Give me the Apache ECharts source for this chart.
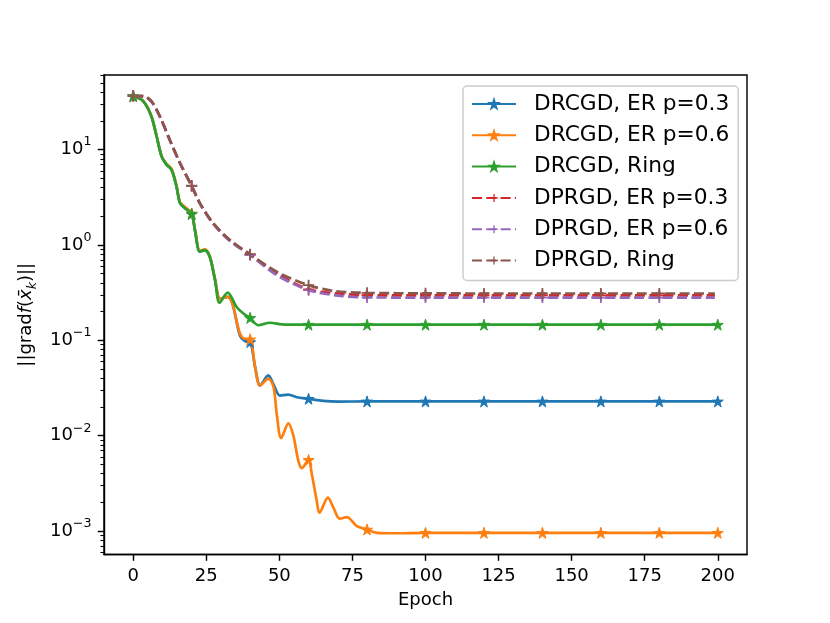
<!DOCTYPE html>
<html>
<head>
<meta charset="utf-8">
<script src="https://cdn.jsdelivr.net/npm/echarts@6/dist/echarts.min.js"></script>
<style>
html, body { margin: 0; padding: 0; background: #fff; }
#main { width: 830px; height: 623px; }
</style>
</head>
<body>
<div id="main"></div>
<script>
// ticks
var epochTicks = [0, 25, 50, 75, 100, 125, 150, 175, 200];
var decadeTicks = [-3, -2, -1, 0, 1];

// [epoch, ||grad f||]
var drcgdEr03 = [[0,36.4],[3.4,32.2],[6.2,22.4],[8,13.8],[9.7,8.5],[11.4,6.95],[13.1,6.17],[14.8,4.11],[16,2.75],[17.7,2.43],[20,2.12],[21.1,1.44],[22.8,0.85],[24.5,0.885],[26.2,0.753],[28,0.427],[29.7,0.272],[32.3,0.286],[34,0.24],[36.5,0.112],[38.2,0.098],[40,0.096],[41.7,0.0524],[43.4,0.0336],[46.2,0.0429],[48,0.0345],[50.2,0.0264],[53,0.027],[56,0.0253],[60,0.0244],[65,0.0232],[70,0.0228],[80,0.0229],[100,0.0229],[120,0.0229],[140,0.0229],[160,0.0229],[180,0.0229],[200,0.0229]];
var drcgdEr06 = [[0,36.4],[3.4,32.2],[6.2,22.4],[8,13.8],[9.7,8.6],[11.4,7.1],[13.1,6.3],[14.8,4.2],[16,2.8],[17.7,2.5],[20,2.14],[21.1,1.46],[22.8,0.87],[24.5,0.9],[26.2,0.76],[28,0.44],[29.7,0.272],[32.3,0.286],[34,0.24],[36.5,0.118],[38.2,0.103],[40,0.1025],[41.7,0.0524],[43.4,0.0336],[46.2,0.0398],[48,0.0324],[49.1,0.0169],[50.6,0.00946],[53.1,0.0135],[54.8,0.01],[56.5,0.00546],[57.7,0.00457],[60,0.00558],[61.1,0.00398],[62.8,0.00207],[63.7,0.00156],[66.6,0.00224],[68.5,0.00176],[70.6,0.00135],[73.1,0.0014],[76.5,0.00113],[80,0.00104],[83.4,0.00096],[90,0.00095],[100,0.00096],[120,0.00096],[140,0.00096],[160,0.00096],[180,0.00096],[200,0.00096]];
var drcgdRing = [[0,36.4],[3.4,32.2],[6.2,22.4],[8,13.8],[9.7,8.5],[11.4,6.95],[13.1,6.17],[14.8,4.11],[16,2.75],[17.7,2.43],[20,2.12],[21.1,1.44],[22.8,0.85],[24.5,0.885],[26.2,0.753],[28,0.429],[29.5,0.248],[32.3,0.316],[35.4,0.224],[37.7,0.191],[40,0.172],[42.8,0.144],[46.8,0.153],[50.8,0.147],[55,0.146],[60,0.146],[80,0.146],[100,0.146],[120,0.146],[140,0.146],[160,0.146],[180,0.146],[200,0.146]];
var dprgdEr03 = [[0,36.4],[3.4,36.3],[6.2,32.0],[9.1,22.2],[12.5,12.6],[16,7.2],[20,4.15],[22.8,2.73],[27.4,1.67],[33.1,1.11],[40,0.79],[49.1,0.5],[60,0.343],[70,0.31],[80,0.298],[100,0.296],[120,0.296],[140,0.296],[160,0.296],[180,0.296],[199,0.296]];
var dprgdEr06 = [[0,36.4],[3.4,36.3],[6.2,32.0],[9.1,22.2],[12.5,12.6],[16,7.2],[20,4.15],[22.8,2.73],[27.4,1.66],[33.1,1.1],[40,0.785],[49.1,0.483],[60,0.336],[70,0.295],[80,0.282],[100,0.281],[120,0.281],[140,0.281],[160,0.281],[180,0.281],[199,0.281]];
var dprgdRing = [[0,36.4],[3.4,36.4],[6.2,32.2],[9.1,22.4],[12.5,12.7],[16,7.24],[20,4.18],[22.8,2.75],[27.4,1.69],[33.1,1.13],[40,0.8],[49.1,0.524],[60,0.379],[68.5,0.33],[80,0.315],[100,0.311],[120,0.31],[140,0.31],[160,0.31],[180,0.31],[199,0.31]];

var names = ['DRCGD, ER p=0.3', 'DRCGD, ER p=0.6', 'DRCGD, Ring', 'DPRGD, ER p=0.3', 'DPRGD, ER p=0.6', 'DPRGD, Ring'];
var colors = ['#1f77b4', '#ff7f0e', '#2ca02c', '#d62728', '#9467bd', '#8c564b'];
var curves = [drcgdEr03, drcgdEr06, drcgdRing, dprgdEr03, dprgdEr06, dprgdRing];

var yMin = -3.245, yMax = 1.782;
var FONT = 'DejaVu Sans';
var starPath = 'path://M10,0L12.25,6.91L19.51,6.91L13.63,11.18L15.88,18.09L10,13.82L4.12,18.09L6.37,11.18L0.49,6.91L7.75,6.91Z';
var plusPath = 'path://M4.2,0H5.8V4.2H10V5.8H5.8V10H4.2V5.8H0V4.2H4.2Z';

// minor ticks of the log axis: 2..9 x 10^n
var minorTicks = [];
for (var n = -4; n <= 1; n++) {
	for (var k = 2; k <= 9; k++) {
		var t = n + Math.log10(k);
		if (t > yMin && t < yMax) minorTicks.push(t);
	}
}

function toData(pts) {
	return pts.map(function(p) {
		var item = { value: [p[0], Math.log10(p[1])] };
		if (p[0] % 20 !== 0) item.symbol = 'none';
		return item;
	});
}

var series = [];
for (var i = 0; i < curves.length; i++) {
	var dashed = i >= 3;
	series.push({
		name: names[i],
		type: 'line',
		data: toData(curves[i]),
		smooth: 0.3,
		showAllSymbol: true,
		symbol: dashed ? plusPath : starPath,
		symbolSize: 11,
		lineStyle: { color: colors[i], width: 2.7, type: dashed ? [10, 4.3] : 'solid' },
		itemStyle: { color: colors[i], borderColor: colors[i], borderWidth: dashed ? 0 : 1 },
		emphasis: { disabled: true }
	});
}

var axisLine = { show: true, onZero: false, lineStyle: { color: '#000', width: 1.44 } };

var myChart = echarts.init(document.getElementById('main'));
var option = {
	animation: false,
	backgroundColor: '#fff',
	grid: { left: 104, right: 83, top: 75, bottom: 68.5, show: true, borderColor: '#000', borderWidth: 1.44, backgroundColor: 'transparent' },
	legend: {
		data: names,
		orient: 'vertical',
		left: 463,
		top: 86,
		itemWidth: 44,
		itemHeight: 10,
		itemGap: 9.3,
		padding: [7, 9, 9, 8],
		backgroundColor: 'rgba(255,255,255,0.8)',
		borderColor: '#cccccc',
		borderWidth: 1.44,
		borderRadius: 4,
		selectedMode: false,
		textStyle: { fontSize: 21.7, fontFamily: FONT, color: '#000', lineHeight: 22, padding: [0, 0, 0, 13] }
	},
	xAxis: {
		type: 'value',
		min: -10,
		max: 210,
		name: 'Epoch',
		nameLocation: 'middle',
		nameGap: 37,
		nameTextStyle: { fontSize: 18, fontFamily: FONT, color: '#000' },
		axisLine: axisLine,
		splitLine: { show: false },
		axisTick: { show: true, customValues: epochTicks, length: 6.3, lineStyle: { color: '#000', width: 1.44 } },
		axisLabel: { customValues: epochTicks, margin: 12.6, fontSize: 18, fontFamily: FONT, color: '#000' }
	},
	yAxis: [{
		type: 'value',
		min: yMin,
		max: yMax,
		name: '{n|||grad}{i|f}{n|(}{i|x\u0304}{k|k}{n|)||}',
		nameLocation: 'middle',
		nameRotate: 90,
		nameGap: 62,
		nameTextStyle: {
			rich: {
				n: { fontSize: 18, fontFamily: FONT, color: '#000', verticalAlign: 'top', lineHeight: 20 },
				i: { fontSize: 18, fontFamily: FONT, fontStyle: 'italic', color: '#000', verticalAlign: 'top', lineHeight: 20 },
				k: { fontSize: 12.6, fontFamily: FONT, fontStyle: 'italic', color: '#000', verticalAlign: 'top', lineHeight: 14, padding: [9, 0, 0, 0] }
			}
		},
		axisLine: axisLine,
		splitLine: { show: false },
		axisTick: { show: true, customValues: decadeTicks, length: 6.3, lineStyle: { color: '#000', width: 1.44 } },
		axisLabel: {
			customValues: decadeTicks,
			margin: 12.6,
			formatter: function(v) {
				var e = Math.round(v);
				var s = e < 0 ? '\u2212' + (-e) : '' + e;
				return '{b|10}{s|' + s + '}';
			},
			rich: {
				b: { fontSize: 18, fontFamily: FONT, color: '#000', verticalAlign: 'bottom', lineHeight: 18 },
				s: { fontSize: 12.6, fontFamily: FONT, color: '#000', verticalAlign: 'bottom', lineHeight: 13, padding: [0, 0, 10, 0] }
			}
		}
	}, {
		type: 'value',
		min: yMin,
		max: yMax,
		position: 'left',
		axisLine: { show: false, onZero: false },
		splitLine: { show: false },
		axisLabel: { show: false },
		axisTick: { show: true, customValues: minorTicks, length: 3.6, lineStyle: { color: '#000', width: 1.08 } }
	}],
	series: series
};
myChart.setOption(option);
</script>
</body>
</html>
